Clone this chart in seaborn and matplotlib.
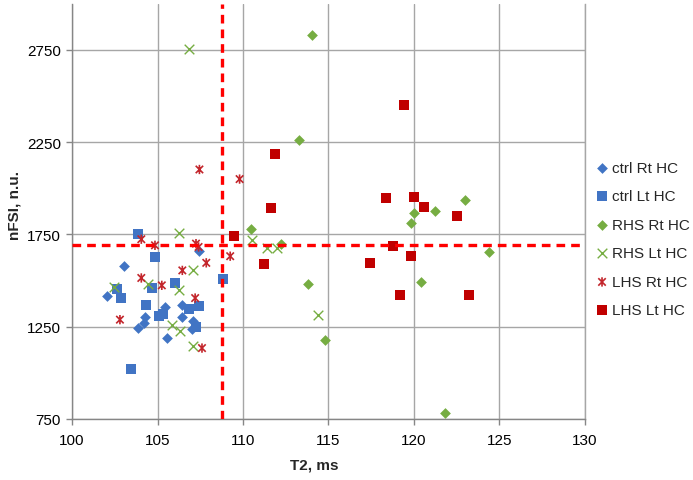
import numpy as np
import pandas as pd
import matplotlib
matplotlib.use("Agg")
import matplotlib.pyplot as plt
from matplotlib.path import Path
import seaborn as sns

# T2 (ms) and nFSI (n.u.) per group
ctrl_rt_x = [103.05, 102.05, 107.45, 105.45, 106.45, 106.45, 104.25, 104.2, 103.85, 107.05, 107.0, 105.55]
ctrl_rt_y = [1580, 1415, 1660, 1355, 1370, 1305, 1300, 1270, 1245, 1280, 1235, 1190]

ctrl_lt_x = [103.85, 104.85, 106.0, 102.65, 102.85, 104.65, 104.3, 106.85, 107.45, 105.1, 105.3, 107.25, 108.85, 103.45]
ctrl_lt_y = [1750, 1630, 1485, 1455, 1405, 1460, 1370, 1345, 1360, 1308, 1318, 1248, 1507, 1018]

rhs_rt_x = [114.05, 113.25, 110.45, 112.25, 113.8, 114.8, 123.0, 121.25, 120.0, 119.8, 124.4, 120.4, 121.8]
rhs_rt_y = [2830, 2260, 1782, 1700, 1480, 1180, 1936, 1878, 1867, 1810, 1656, 1492, 781]

rhs_lt_x = [106.85, 106.25, 107.05, 102.45, 104.45, 106.25, 105.85, 106.3, 107.05, 110.55, 111.4, 112.0, 114.4]
rhs_lt_y = [2755, 1760, 1555, 1465, 1483, 1450, 1261, 1224, 1145, 1718, 1677, 1677, 1315]

lhs_rt_x = [107.45, 109.8, 104.05, 104.85, 107.25, 107.4, 109.25, 107.85, 106.45, 104.05, 105.25, 107.2, 102.8, 107.6]
lhs_rt_y = [2102, 2050, 1724, 1691, 1700, 1682, 1632, 1596, 1555, 1514, 1474, 1405, 1288, 1134]

lhs_lt_x = [119.4, 111.85, 111.65, 111.25, 109.45, 117.45, 118.35, 120.0, 120.6, 122.5, 118.75, 119.8, 119.2, 123.2]
lhs_lt_y = [2452, 2184, 1894, 1588, 1742, 1597, 1947, 1954, 1896, 1851, 1688, 1634, 1420, 1420]

# cut-off lines
t2_cut = 108.8
nfsi_cut = 1690

x_ticks = [100, 105, 110, 115, 120, 125, 130]
y_ticks = [750, 1250, 1750, 2250, 2750]

sns.set_theme(style="white")
plt.rcParams['font.family'] = ['Liberation Sans', 'DejaVu Sans']

# asterisk marker like excel's: an x with a vertical bar
star = Path([(-1, -1), (1, 1), (-1, 1), (1, -1), (0, -1.25), (0, 1.25)],
            [Path.MOVETO, Path.LINETO, Path.MOVETO, Path.LINETO, Path.MOVETO, Path.LINETO])

blue = "#4174c4"
green = "#76ad42"
dred = "#c00000"
ared = "#c3262c"

fig, ax = plt.subplots(figsize=(6.93, 4.81), dpi=100)
fig.subplots_adjust(left=0.104, right=0.844, bottom=0.127, top=0.99)

sns.scatterplot(x=ctrl_rt_x, y=ctrl_rt_y, marker="D", s=30, color=blue, linewidth=0, label="ctrl Rt HC", ax=ax, zorder=3)
sns.scatterplot(x=ctrl_lt_x, y=ctrl_lt_y, marker="s", s=52, color=blue, linewidth=0, label="ctrl Lt HC", ax=ax, zorder=3)
sns.scatterplot(x=rhs_rt_x, y=rhs_rt_y, marker="D", s=30, color=green, linewidth=0, label="RHS Rt HC", ax=ax, zorder=3)
sns.scatterplot(x=rhs_lt_x, y=rhs_lt_y, marker="x", s=48, color=green, linewidth=1.0, label="RHS Lt HC", ax=ax, zorder=3)
sns.scatterplot(x=lhs_rt_x, y=lhs_rt_y, marker=star, s=45, color=ared, edgecolor=ared, facecolor="none",
                linewidth=1.2, label="LHS Rt HC", ax=ax, zorder=3)
sns.scatterplot(x=lhs_lt_x, y=lhs_lt_y, marker="s", s=52, color=dred, linewidth=0, label="LHS Lt HC", ax=ax, zorder=3)

ax.axvline(t2_cut, color="#ff0000", lw=2.4, linestyle=(0, (2.6, 1.8)), zorder=4)
ax.axhline(nfsi_cut, color="#ff0000", lw=2.4, linestyle=(0, (2.6, 1.8)), zorder=4)

ax.set_xlim(100, 130)
ax.set_ylim(750, 3000)
ax.set_xticks(x_ticks)
ax.set_yticks(y_ticks)
ax.grid(True, color="#a6a6a6", lw=1.0)
ax.set_axisbelow(True)

ax.spines["top"].set_visible(False)
ax.spines["right"].set_color("#a6a6a6")
ax.spines["left"].set_color("#868686")
ax.spines["bottom"].set_color("#868686")
for s in ["left", "bottom", "right"]:
    ax.spines[s].set_linewidth(1.0)

ax.tick_params(axis="both", direction="out", length=4, width=1, color="#868686",
               labelsize=11, labelcolor="black", pad=4)
ax.tick_params(axis="x", bottom=True, pad=6)
ax.tick_params(axis="y", left=True)

ax.set_xlabel("T2, ms", fontsize=11, fontweight="bold")
ax.set_ylabel("nFSI, n.u.", fontsize=11, fontweight="bold")
ax.xaxis.set_label_coords(0.472, -0.094)
ax.yaxis.set_label_coords(-0.099, 0.516)

ax.legend(loc="center left", bbox_to_anchor=(1.02, 0.433), frameon=False, fontsize=11,
          labelspacing=0.95, handletextpad=0.2, handlelength=0.9, borderaxespad=0, borderpad=0)

fig.savefig("out.png", dpi=100)
